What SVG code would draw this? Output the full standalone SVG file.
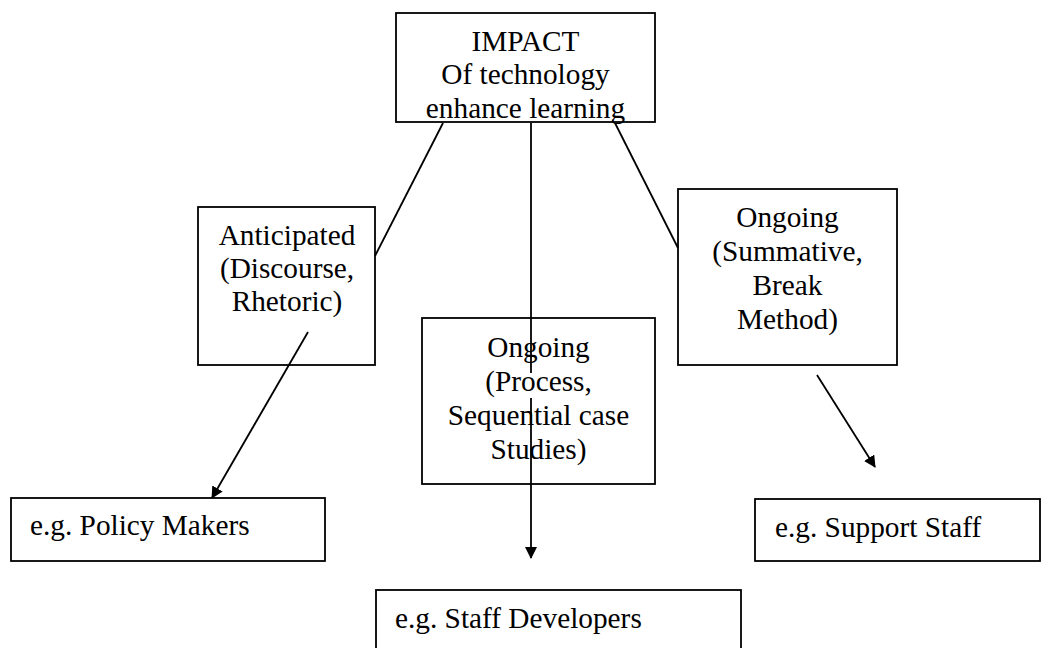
<svg xmlns="http://www.w3.org/2000/svg" width="1047" height="648" viewBox="0 0 1047 648">
<style>
.box{fill:#fff;stroke:#000;stroke-width:1.8}
.t{font-family:"Liberation Serif","Times New Roman",serif;font-size:29.3px;fill:#000}
.c{text-anchor:middle}
.ln{stroke:#000;stroke-width:1.8;fill:none}
</style>
<defs>
<marker id="ah" markerWidth="12" markerHeight="12" refX="11" refY="6" orient="auto" markerUnits="userSpaceOnUse">
<path d="M0,0 L12,6 L0,12 z" fill="#000"/>
</marker>
</defs>
<rect width="1047" height="648" fill="#fff"/>
<g id="impact">
<rect class="box" x="396" y="13" width="259" height="109"/>
<text class="t c" x="525.5" y="51">IMPACT</text>
<text class="t c" x="525.5" y="84">Of technology</text>
<text class="t c" x="525.5" y="118">enhance learning</text>
</g>
<g id="anticipated">
<rect class="box" x="198" y="207" width="177" height="158"/>
<text class="t c" x="287" y="245">Anticipated</text>
<text class="t c" x="287" y="278">(Discourse,</text>
<text class="t c" x="287" y="311">Rhetoric)</text>
</g>
<g id="ongoing-summative">
<rect class="box" x="678" y="189" width="219" height="176"/>
<text class="t c" x="787.5" y="227">Ongoing</text>
<text class="t c" x="787.5" y="261">(Summative,</text>
<text class="t c" x="787.5" y="295">Break</text>
<text class="t c" x="787.5" y="329">Method)</text>
</g>
<g id="ongoing-process">
<rect class="box" x="422" y="318" width="233" height="166"/>
<text class="t c" x="538.5" y="357">Ongoing</text>
<text class="t c" x="538.5" y="391">(Process,</text>
<text class="t c" x="538.5" y="425">Sequential case</text>
<text class="t c" x="538.5" y="459">Studies)</text>
</g>
<g id="policy">
<rect class="box" x="11" y="498" width="314" height="63"/>
<text class="t" x="30" y="535">e.g. Policy Makers</text>
</g>
<g id="support">
<rect class="box" x="755" y="499" width="285" height="62"/>
<text class="t" x="775" y="537">e.g. Support Staff</text>
</g>
<g id="developers">
<rect class="box" x="376" y="590" width="365" height="70"/>
<text class="t" x="395" y="628">e.g. Staff Developers</text>
</g>
<g id="connectors">
<line class="ln" x1="443" y1="123" x2="375" y2="256"/>
<line class="ln" x1="615" y1="123" x2="678" y2="248"/>
<line class="ln" x1="531" y1="123" x2="531" y2="373"/>
<line class="ln" x1="531" y1="398" x2="531" y2="558" marker-end="url(#ah)"/>
<line class="ln" x1="308" y1="332" x2="212" y2="498" marker-end="url(#ah)"/>
<line class="ln" x1="817" y1="375" x2="875" y2="467" marker-end="url(#ah)"/>
</g>
</svg>
